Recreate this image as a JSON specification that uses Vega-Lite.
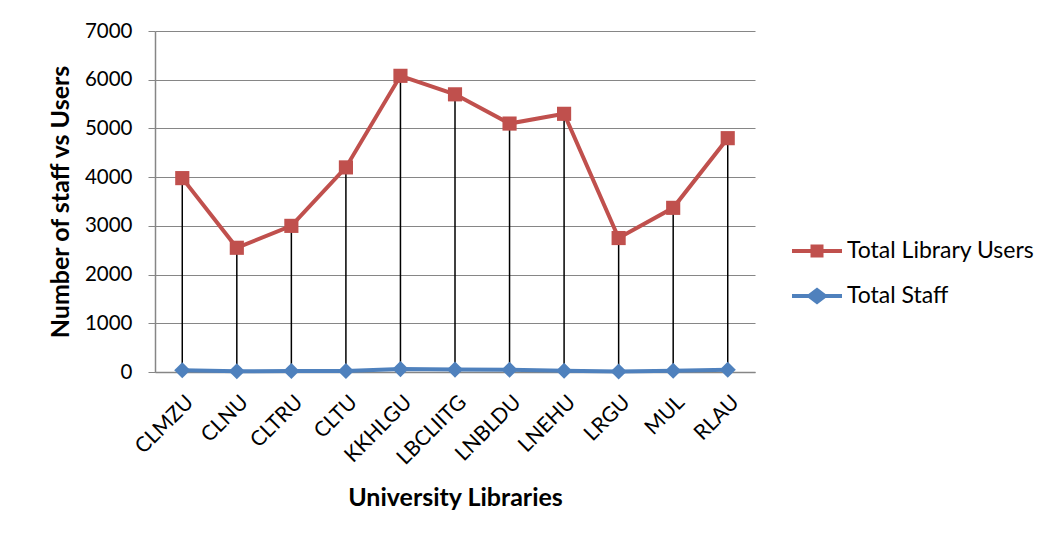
{
  "$schema": "https://vega.github.io/schema/vega-lite/v6.json",
  "autosize": {"type": "none"},
  "width": 600,
  "height": 341,
  "padding": {"left": 155, "top": 31, "right": 302, "bottom": 172},
  "background": "white",
  "config": {
    "font": "Lato",
    "view": {"stroke": null},
    "axis": {"labelFont": "Lato", "titleFont": "Lato", "labelColor": "#000", "titleColor": "#000"}
  },
  "data": {
    "values": [
      {"lib": "CLMZU", "users": 3980, "staff": 35},
      {"lib": "CLNU", "users": 2550, "staff": 15},
      {"lib": "CLTRU", "users": 3000, "staff": 20},
      {"lib": "CLTU", "users": 4200, "staff": 20},
      {"lib": "KKHLGU", "users": 6080, "staff": 60},
      {"lib": "LBCLIITG", "users": 5700, "staff": 50},
      {"lib": "LNBLDU", "users": 5100, "staff": 45},
      {"lib": "LNEHU", "users": 5300, "staff": 25},
      {"lib": "LRGU", "users": 2750, "staff": 10},
      {"lib": "MUL", "users": 3370, "staff": 25},
      {"lib": "RLAU", "users": 4800, "staff": 45}
    ]
  },
  "encoding": {
    "x": {
      "field": "lib", "type": "nominal", "sort": null,
      "scale": {"type": "point", "padding": 0.5},
      "axis": {
        "title": "University Libraries", "titleFontSize": 25, "titleFontWeight": "bold",
        "titlePadding": 17,
        "labelAngle": -45, "labelFontSize": 21, "labelPadding": 19,
        "ticks": false, "grid": false, "domainColor": "#868686", "domainWidth": 1.5
      }
    }
  },
  "layer": [
    {
      "mark": {"type": "rule", "color": "#000", "strokeWidth": 1.5},
      "encoding": {
        "y": {
          "field": "staff", "type": "quantitative",
          "scale": {"domain": [0, 7000]},
          "axis": {
            "title": "Number of staff vs Users", "titleFontSize": 25, "titleFontWeight": "bold",
            "titlePadding": 11, "format": "d",
            "values": [0, 1000, 2000, 3000, 4000, 5000, 6000, 7000],
            "labelFontSize": 20.5, "labelPadding": 16, "tickSize": 7,
            "tickColor": "#868686", "domainColor": "#868686", "domainWidth": 1.5,
            "gridColor": "#868686", "gridWidth": 1.2
          }
        },
        "y2": {"field": "users"}
      }
    },
    {
      "mark": {"type": "line", "color": "#C0504D", "strokeWidth": 4},
      "encoding": {"y": {"field": "users", "type": "quantitative"}}
    },
    {
      "mark": {"type": "line", "color": "#4F81BD", "strokeWidth": 4},
      "encoding": {"y": {"field": "staff", "type": "quantitative"}}
    },
    {
      "mark": {"type": "point", "shape": "square", "filled": true, "opacity": 1, "color": "#C0504D", "size": 200},
      "encoding": {"y": {"field": "users", "type": "quantitative"}}
    },
    {
      "mark": {"type": "point", "shape": "diamond", "filled": true, "opacity": 1, "color": "#4F81BD", "size": 260},
      "encoding": {"y": {"field": "staff", "type": "quantitative"}}
    },
    {
      "transform": [{"filter": "false"}],
      "mark": {"type": "point", "filled": true, "opacity": 1},
      "encoding": {
        "y": {"field": "users", "type": "quantitative"},
        "color": {
          "field": "series", "type": "nominal",
          "scale": {"domain": ["Total Library Users", "Total Staff"], "range": ["#C0504D", "#4F81BD"]},
          "legend": {
            "title": null, "orient": "none", "legendX": 637, "legendY": 195,
            "labelFontSize": 23, "labelOffset": 5, "labelLimit": 300,
            "symbolSize": 2500, "symbolStrokeWidth": 0, "rowPadding": 8
          }
        },
        "shape": {
          "field": "series", "type": "nominal",
          "scale": {
            "domain": ["Total Library Users", "Total Staff"],
            "range": [
              "M-1,-0.08H-0.26V-0.26H0.26V-0.08H1V0.08H0.26V0.26H-0.26V0.08H-1Z",
              "M-1,-0.08H-0.34L0,-0.34L0.34,-0.08H1V0.08H0.34L0,0.34L-0.34,0.08H-1Z"
            ]
          }
        }
      }
    }
  ]
}
